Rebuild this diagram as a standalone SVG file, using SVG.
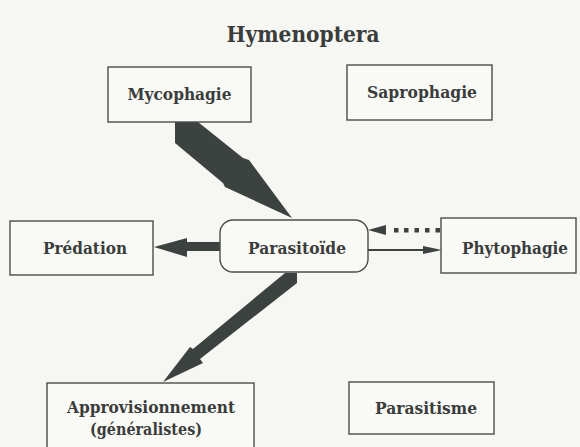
<svg xmlns="http://www.w3.org/2000/svg" width="580" height="447" viewBox="0 0 580 447">
  <style>
    .bg { fill: #f6f6f2; }
    .box { fill: #f9f9f6; stroke: #4a4d4b; stroke-width: 1.4; }
    .lbl { font-family: "DejaVu Serif", "Liberation Serif", serif; font-weight: bold; font-size: 16px; fill: #3a3d3b; text-anchor: middle; }
    .title { font-family: "DejaVu Serif", "Liberation Serif", serif; font-weight: bold; font-size: 22px; fill: #3a3d3b; text-anchor: middle; }
    .wedge { fill: #3b423f; }
    .thin { stroke: #3b423f; stroke-width: 2; fill: none; }
  </style>
  <rect class="bg" x="0" y="0" width="580" height="447"/>

  <text class="title" x="303" y="42" textLength="153" lengthAdjust="spacingAndGlyphs">Hymenoptera</text>

  <g id="connectors">
    <!-- Mycophagie to Parasitoïde -->
    <polygon class="wedge" points="175,122 198,122 243,158 249,160 292,218 225,187 223,183 175,143"/>
    <!-- Parasitoïde to Approvisionnement -->
    <polygon class="wedge" points="285,273 297,273 297,283 200,359 203,363 163,382 190,347 193,349"/>
    <!-- Parasitoïde to Prédation -->
    <polygon class="wedge" points="220,242 187,242 187,238 154,247 187,257 187,251 220,251"/>
    <!-- Phytophagie to Parasitoïde, dotted -->
    <g class="wedge">
      <polygon points="368,230 386,225 386,235"/>
      <rect x="394" y="228" width="4.5" height="4.5"/>
      <rect x="404" y="228" width="4.5" height="4.5"/>
      <rect x="414.5" y="228" width="4.5" height="4.5"/>
      <rect x="425" y="228" width="4.5" height="4.5"/>
      <rect x="435.5" y="228" width="4.5" height="4.5"/>
    </g>
    <!-- Parasitoïde to Phytophagie -->
    <line class="thin" x1="368" y1="250" x2="426" y2="250"/>
    <polygon class="wedge" points="442,250 423,246 423,254"/>
  </g>

  <g id="mycophagie">
    <rect class="box" x="108" y="67" width="143" height="55"/>
    <text class="lbl" x="179.5" y="100" textLength="104" lengthAdjust="spacingAndGlyphs">Mycophagie</text>
  </g>
  <g id="saprophagie">
    <rect class="box" x="347" y="65" width="145" height="55"/>
    <text class="lbl" x="422" y="98" textLength="110" lengthAdjust="spacingAndGlyphs">Saprophagie</text>
  </g>
  <g id="predation">
    <rect class="box" x="10" y="221" width="143" height="54"/>
    <text class="lbl" x="85" y="254" textLength="84" lengthAdjust="spacingAndGlyphs">Prédation</text>
  </g>
  <g id="parasitoide">
    <rect class="box" x="220" y="220" width="148" height="52" rx="13" ry="13"/>
    <text class="lbl" x="297" y="254" textLength="98" lengthAdjust="spacingAndGlyphs">Parasitoïde</text>
  </g>
  <g id="phytophagie">
    <rect class="box" x="441" y="218" width="135" height="55"/>
    <text class="lbl" x="515" y="254" textLength="106" lengthAdjust="spacingAndGlyphs">Phytophagie</text>
  </g>
  <g id="approvisionnement">
    <rect class="box" x="47" y="383" width="207" height="66"/>
    <text class="lbl" x="151" y="413" textLength="168" lengthAdjust="spacingAndGlyphs">Approvisionnement</text>
    <text class="lbl" x="146" y="435" textLength="112" lengthAdjust="spacingAndGlyphs">(généralistes)</text>
  </g>
  <g id="parasitisme">
    <rect class="box" x="349" y="382" width="145" height="52"/>
    <text class="lbl" x="426" y="414" textLength="102" lengthAdjust="spacingAndGlyphs">Parasitisme</text>
  </g>
</svg>
